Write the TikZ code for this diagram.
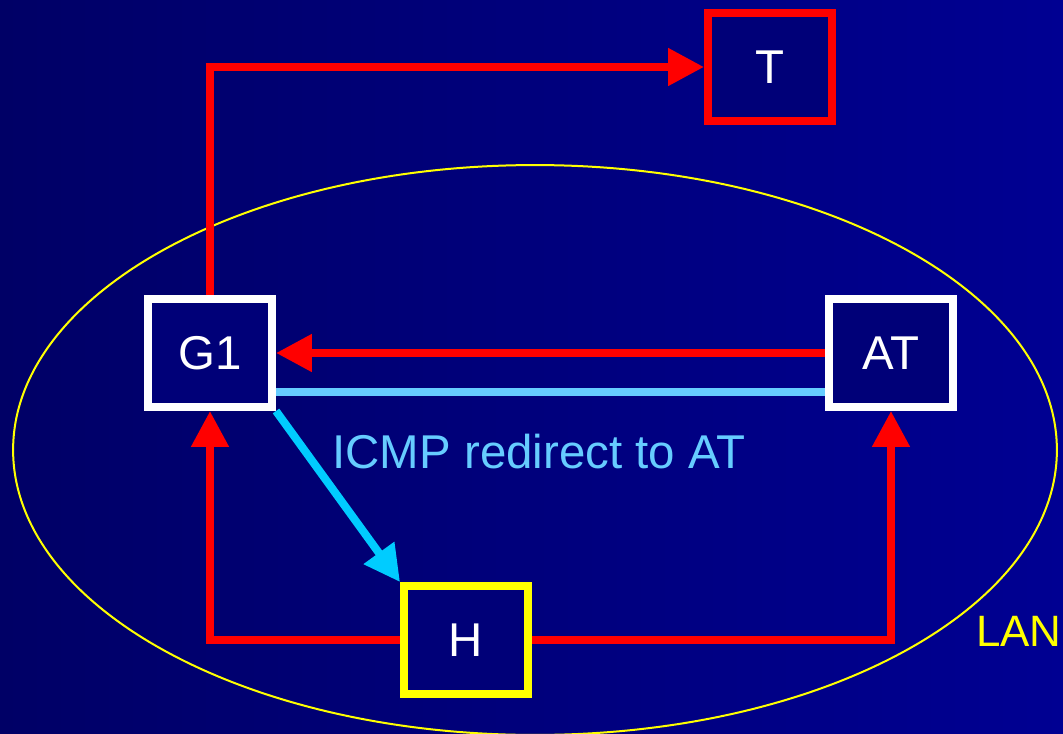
\documentclass[tikz,border=0pt]{standalone}
\usepackage{fontspec}
\setmainfont{Liberation Sans}
\usetikzlibrary{arrows.meta}
\definecolor{bgleft}{HTML}{000066}
\definecolor{bgright}{HTML}{000092}
\definecolor{pathred}{HTML}{FF0000}
\definecolor{icmpblue}{HTML}{66CCFF}
\definecolor{redircyan}{HTML}{00CCFF}
\definecolor{lanyellow}{HTML}{FFFF00}
\begin{document}
\begin{tikzpicture}[x=0.02cm, y=-0.02cm, >={Triangle[length=0.72cm,width=0.72cm]},
 every node/.style={font=\fontsize{27}{30}\selectfont, text=white},
 box/.style={draw=white, line width=0.16cm, fill=bgleft!60!bgright,
 minimum width=2.48cm, minimum height=2.16cm, inner sep=0pt},
 redline/.style={draw=pathred, line width=0.16cm},
 icmpline/.style={draw=icmpblue, line width=0.16cm}]
\shade[left color=bgleft, right color=bgright] (0,0) rectangle (1063,734);
\useasboundingbox (0,0) rectangle (1063,734);
\draw[lanyellow, line width=0.04cm] (535,450) ellipse [x radius=10.44cm, y radius=5.7cm];
\node[box] (g1) at (210,353) {G1};
\node[box] (at) at (891,353) {AT};
\node[box, draw=pathred] (t) at (770,67) {T};
\node[box, draw=lanyellow] (h) at (466,640) {H};
\node[text=icmpblue] (icmp) at (539,452) {ICMP redirect to AT};
\node[text=lanyellow, anchor=east, inner sep=0pt,
 font=\fontsize{25}{28}\selectfont] (lan) at (1062,631) {LAN};
\draw[redline, ->] (g1.north) |- (t.west);
\draw[redline, ->] (at.west) -- (g1.east);
\draw[icmpline] ([yshift=-0.78cm]g1.east) -- ([yshift=-0.78cm]at.west);
\draw[draw=redircyan, line width=0.16cm, ->] (g1.south east) -- (h.north west);
\draw[redline, ->] (h.west) -| (g1.south);
\draw[redline, ->] (h.east) -| (at.south);
\end{tikzpicture}
\end{document}
